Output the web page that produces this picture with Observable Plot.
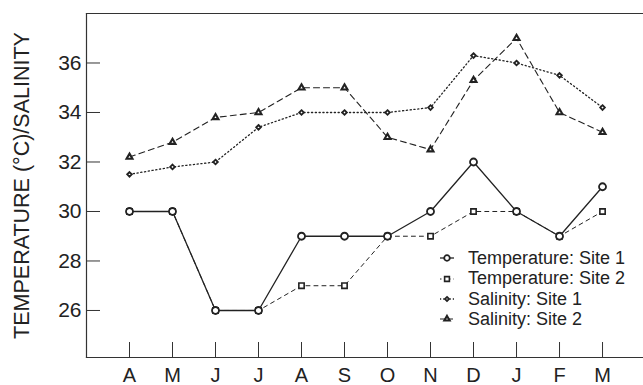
<!DOCTYPE html>
<html>
<head>
<meta charset="utf-8">
<script src="https://cdn.jsdelivr.net/npm/d3@7"></script>
<script src="https://cdn.jsdelivr.net/npm/@observablehq/plot@0.6"></script>
<style>
  html, body { margin: 0; padding: 0; background: #fff; }
  #wrap { position: relative; width: 643px; height: 385px; overflow: hidden; font-family: "Liberation Sans", Arial, sans-serif; }
  #legend { position: absolute; left: 440px; top: 248px; font-size: 18px; color: #222; }
  #legend .row { display: flex; align-items: center; height: 20.4px; line-height: 20.4px; }
  #legend svg { flex: none; }
</style>
</head>
<body>
<div id="wrap"></div>
<script>
const months = ["A","M","J","J","A","S","O","N","D","J","F","M"];
const temp1 = [30,30,26,26,29,29,29,30,32,30,29,31];
const temp2 = [30,30,26,26,27,27,29,29,30,30,29,30];
const sal1  = [31.5,31.8,32.0,33.4,34.0,34.0,34.0,34.2,36.3,36.0,35.5,34.2];
const sal2  = [32.2,32.8,33.8,34.0,35.0,35.0,33.0,32.5,35.3,37.0,34.0,33.2];
const yTicks = [26,28,30,32,34,36];
const seriesNames = ["Temperature: Site 1","Temperature: Site 2","Salinity: Site 1","Salinity: Site 2"];
const yTitle = "TEMPERATURE (°C)/SALINITY";

const ink = "#222";
const series = [
  {name: seriesNames[0], values: temp1, symbol: "circle", d3sym: d3.symbolCircle, dash: null, r: 3.5, sw: 1.3, msw: 1.8, legendDash: null},
  {name: seriesNames[1], values: temp2, symbol: "square", d3sym: d3.symbolSquare, dash: "4,4", r: 3.0, sw: 1, msw: 1.6, legendDash: "1.5,3"},
  {name: seriesNames[2], values: sal1, symbol: "diamond2", d3sym: d3.symbolDiamond2, dash: "1.2,2.6", r: 2.1, sw: 1.3, msw: 1.8, legendDash: "1.2,2"},
  {name: seriesNames[3], values: sal2, symbol: "triangle", d3sym: d3.symbolTriangle, dash: "6,4", r: 2.2, sw: 1.1, msw: 2.1, legendDash: "5,3"}
];
const rows = series.map(s => s.values.map((v, i) => ({i, v, name: s.name})));

const marks = [
  Plot.frame({anchor: "top", stroke: "#333", strokeWidth: 1.2}),
  Plot.frame({anchor: "bottom", stroke: "#333", strokeWidth: 1.2}),
  Plot.frame({anchor: "left", stroke: "#333", strokeWidth: 1.2}),
  Plot.axisX({ticks: d3.range(months.length), tickFormat: i => months[i], tickSize: -15, tickPadding: 25, fontSize: 20, stroke: "#333", color: ink, label: null}),
  Plot.axisY({ticks: yTicks, tickSize: -14, tickPadding: 19, fontSize: 21, stroke: "#333", color: ink, label: null}),
  Plot.text([yTitle], {frameAnchor: "left", textAnchor: "middle", rotate: -90, dx: -64, fontSize: 21.5, fill: ink})
];
[3,2,1,0].forEach(k => {
  const s = series[k];
  marks.push(Plot.line(rows[k], {x: "i", y: "v", stroke: ink, strokeWidth: s.sw, strokeDasharray: s.dash}));
});
[3,2,1,0].forEach(k => {
  const s = series[k];
  marks.push(Plot.dot(rows[k], {x: "i", y: "v", symbol: () => s.symbol, r: s.r, fill: "white", stroke: ink, strokeWidth: s.msw}));
});

const chart = Plot.plot({
  width: 643,
  height: 385,
  marginTop: 13,
  marginBottom: 28,
  marginLeft: 86,
  marginRight: 0,
  style: {fontFamily: "Liberation Sans, Arial, sans-serif", background: "white"},
  x: {domain: [-1, 11.953], axis: null},
  y: {domain: [24.1, 38], axis: null},
  symbol: {type: "identity"},
  marks
});
const wrap = document.getElementById("wrap");
wrap.appendChild(chart);

// legend overlay
const legend = document.createElement("div");
legend.id = "legend";
const ns = "http://www.w3.org/2000/svg";
series.forEach(s => {
  const row = document.createElement("div");
  row.className = "row";
  const svg = document.createElementNS(ns, "svg");
  svg.setAttribute("width", 28); svg.setAttribute("height", 20);
  const line = document.createElementNS(ns, "line");
  line.setAttribute("x1", 0); line.setAttribute("x2", 14);
  line.setAttribute("y1", 10); line.setAttribute("y2", 10);
  line.setAttribute("stroke", ink); line.setAttribute("stroke-width", s.sw);
  if (s.legendDash) line.setAttribute("stroke-dasharray", s.legendDash);
  svg.appendChild(line);
  const path = document.createElementNS(ns, "path");
  const rr = s.symbol === "circle" ? 2.8 : s.r * 0.9;
  path.setAttribute("d", d3.symbol(s.d3sym, Math.PI * rr * rr)());
  path.setAttribute("transform", "translate(7,10)");
  path.setAttribute("fill", "white"); path.setAttribute("stroke", ink); path.setAttribute("stroke-width", s.msw);
  svg.appendChild(path);
  row.appendChild(svg);
  const t = document.createElement("span");
  t.textContent = s.name;
  row.appendChild(t);
  legend.appendChild(row);
});
wrap.appendChild(legend);
</script>
</body>
</html>
